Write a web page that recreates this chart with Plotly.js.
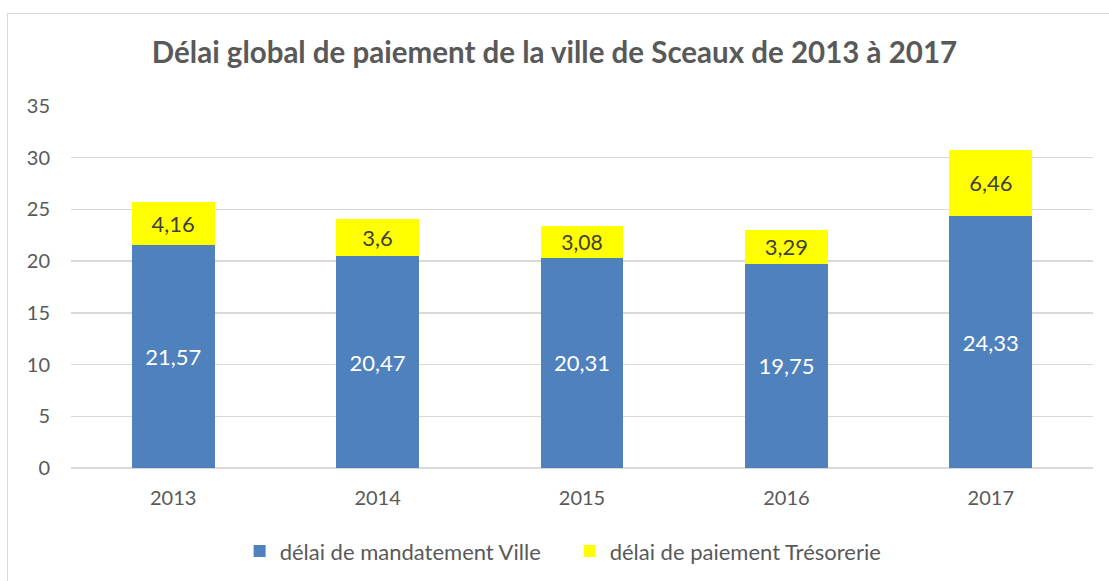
<!DOCTYPE html>
<html><head><meta charset="utf-8">
<script src="https://cdn.plot.ly/plotly-3.0.1.min.js"></script>
<style>
html,body{margin:0;padding:0;background:#fff;}
#wrap{position:relative;width:1109px;height:581px;}
#chart{width:1109px;height:581px;}
#frame{position:absolute;left:7px;top:13px;width:1110px;height:580px;border-left:1.5px solid #d9d9d9;border-top:1.5px solid #d9d9d9;pointer-events:none;}
</style></head>
<body><div id="wrap"><div id="chart"></div><div id="frame"></div></div>
<script>
const years = ['2013','2014','2015','2016','2017'];
const mandatementVille = [21.57, 20.47, 20.31, 19.75, 24.33];
const paiementTresorerie = [4.16, 3.6, 3.08, 3.29, 6.46];
const fmt = v => String(v).replace('.', ',');
const font = 'Lato, "Open Sans", sans-serif';
const traces = [
  {type:'bar', name:'délai de mandatement Ville', x:years, y:mandatementVille,
   marker:{color:'#4F81BD'}, text:mandatementVille.map(fmt), textposition:'inside',
   insidetextanchor:'middle', textfont:{color:'#ffffff', size:22, family:font}, hoverinfo:'skip'},
  {type:'bar', name:'délai de paiement Trésorerie', x:years, y:paiementTresorerie,
   marker:{color:'#FFFF00'}, text:paiementTresorerie.map(fmt), textposition:'inside',
   insidetextanchor:'middle', textfont:{color:'#404040', size:22, family:font}, hoverinfo:'skip'}
];
const layout = {
  width:1109, height:581, barmode:'stack', bargap:0.595,
  paper_bgcolor:'#ffffff', plot_bgcolor:'#ffffff',
  margin:{l:71, r:16, t:106, b:113, autoexpand:false},
  title:{text:'<b>Délai global de paiement de la ville de Sceaux de 2013 à 2017</b>',
    font:{family:font, size:29.5, color:'#595959'}, x:0.5, xanchor:'center', y:0.91, yanchor:'middle'},
  xaxis:{type:'category', tickfont:{family:font, size:20, color:'#595959'}, showline:false,
    ticks:'', showgrid:false, zeroline:false, ticklabelstandoff:16},
  yaxis:{range:[0,35], dtick:5, tickfont:{family:font, size:20, color:'#595959'},
    gridcolor:'#d9d9d9', gridwidth:1.5, zeroline:true, zerolinecolor:'#d9d9d9', zerolinewidth:1.5,
    ticks:'', ticklabelstandoff:20, showline:false},
  showlegend:true,
  legend:{orientation:'h', x:0.165, xanchor:'left', y:-0.23, yanchor:'middle',
    font:{family:font, size:22, color:'#595959'}, traceorder:'normal', itemwidth:30,
    entrywidth:285, entrywidthmode:'pixels'},
  uniformtext:{mode:false}
};
Plotly.newPlot('chart', traces, layout, {displayModeBar:false, staticPlot:true});
</script></body></html>
